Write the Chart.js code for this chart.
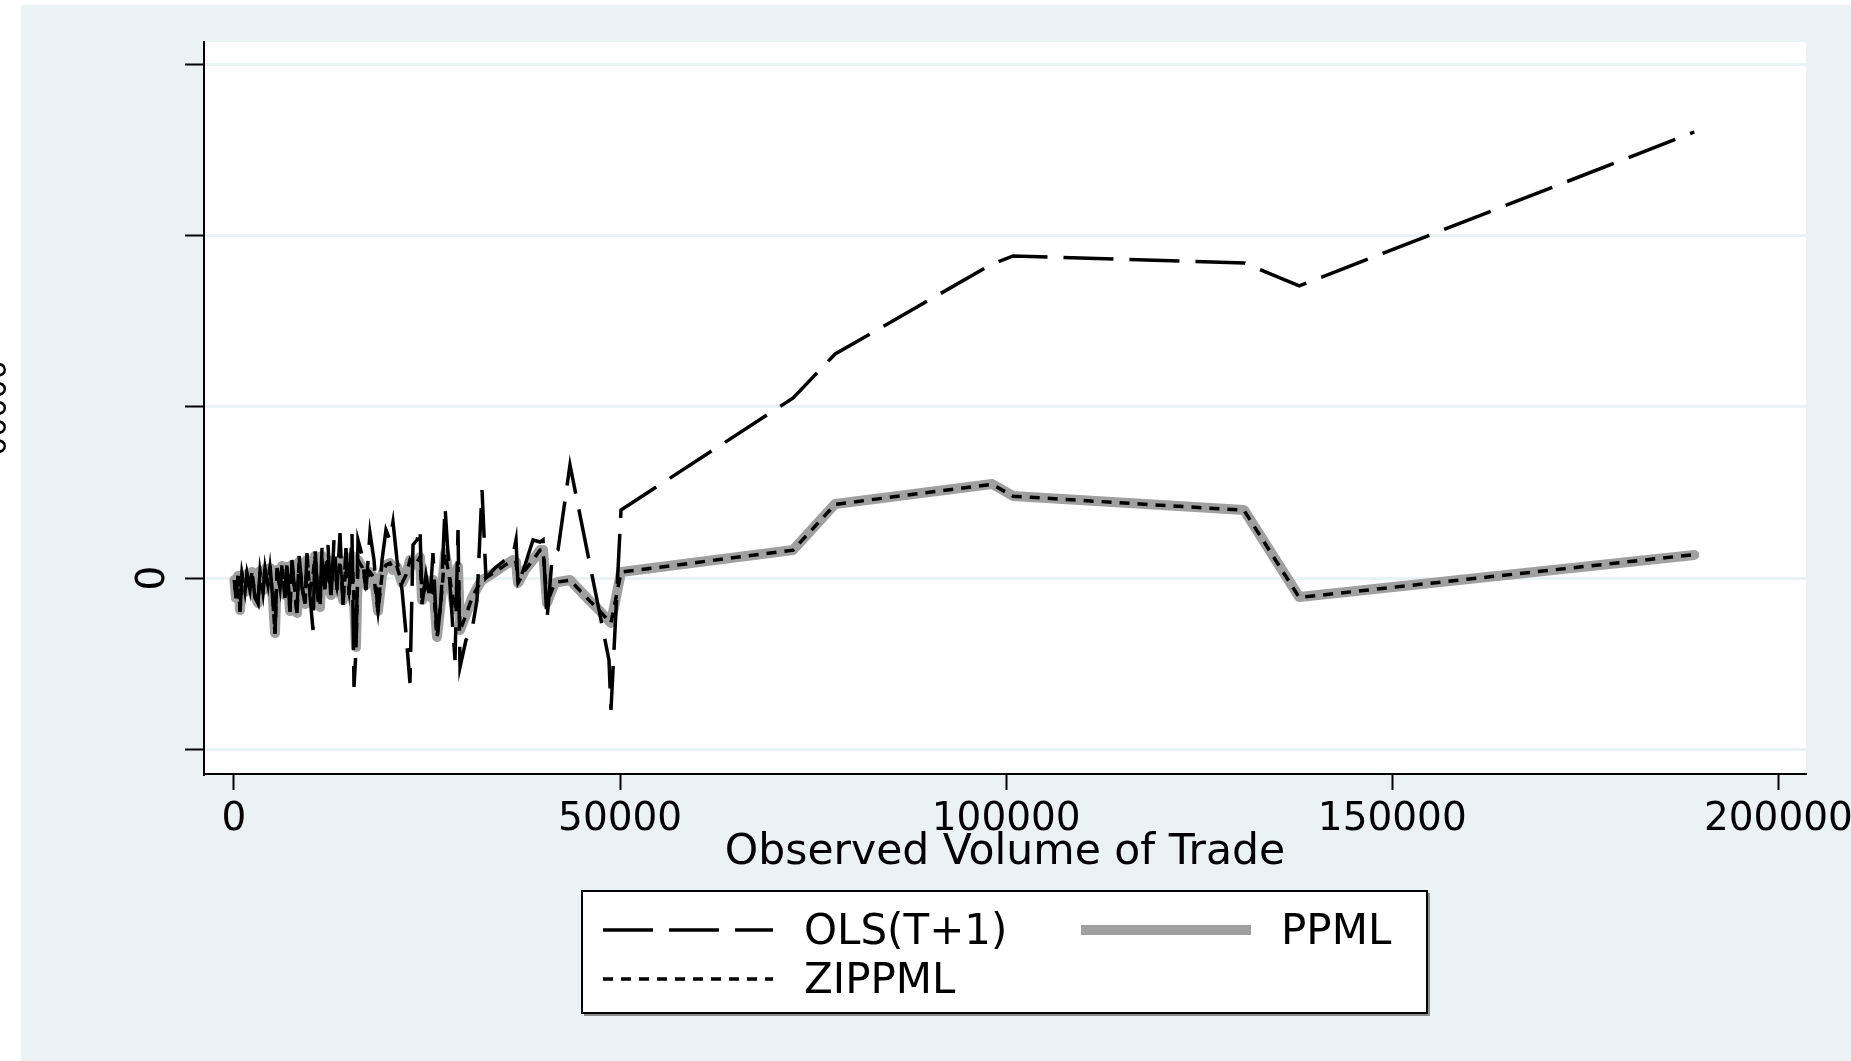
<!DOCTYPE html>
<html><head><meta charset="utf-8">
<script src="https://cdn.jsdelivr.net/npm/chart.js@4.4.1/dist/chart.umd.min.js"></script>
<style>html,body{margin:0;padding:0;background:#fff;overflow:hidden}canvas{display:block}</style>
</head><body>
<canvas id="c" width="1851" height="1061"></canvas>
<script>
// ---- data ----
const xObs = [50,260,520,780,1040,1420,1680,2070,2330,2720,3110,3370,3760,4020,4400,4660,5050,5310,5570,5960,
  6220,6600,6860,7250,7510,7900,8160,8420,8810,9200,9450,9840,10230,10490,10880,11140,11400,11790,12170,12560,
  12950,13340,13730,14120,14500,14890,15280,15540,15800,16060,16580,17090,17610,18130,18650,19170,19680,20200,20590,21110,
  21760,22270,22790,23180,23700,24090,24350,24860,25380,25770,26290,26810,27330,27970,28620,29010,29270,30040,30820,31470,
  32120,32630,33800,35100,36130,36520,36780,37690,38720,39630,40020,40530,41180,41570,41960,43510,46100,47400,48560,48820,
  50120,72410,77850,98180,100900,130800,137950,189110];

const olsVals = [-590,-5850,590,-9940,880,-4090,1170,-3510,2050,-5850,-7310,2340,-4090,2920,-2340,3510,-7020,-16370,2920,-2920,
  3800,-5850,4680,-9940,5260,-4970,-10230,6430,-2920,-7600,7310,-5260,-15200,8770,-6430,-8480,8770,-2920,9650,-6430,
  11110,-3510,13160,-7900,8770,-4970,13160,-31870,-21050,11110,6730,-3510,13160,5260,-9940,5260,14040,11110,16370,5260,
  -3510,-16080,-30700,9650,11110,14620,-7600,880,-6430,7310,-18130,-6430,20760,-2050,-23980,14040,-26020,-18130,-15200,-6430,
  25730,0,2920,5260,6730,11110,-2050,3800,11110,10530,11110,-12280,5260,7310,8190,33040,3800,-10820,-23980,-38600,
  19880,52630,65500,91810,94150,92110,85380,130410];

const ppmlVals = [-590,-5850,590,-9360,880,-4090,1170,-2920,1750,-5260,-7310,2050,-3510,2630,-2050,2920,-6430,-16080,2340,-2920,
  3510,-4970,3220,-9650,3800,-4090,-10230,4680,-2050,-7600,5260,-3510,880,6430,-4970,-8480,6430,-3510,5260,-4970,
  4680,-2050,5260,-6430,3510,-3510,6430,-6430,-20180,5260,3220,-2050,1750,20,-9650,880,3800,4390,2340,3220,
  -1460,880,5260,3800,4680,6140,-6430,-590,-5560,-590,-17250,-6430,7310,-590,-9360,3220,-15200,-10820,-5850,-2920,
  -590,30,1750,3800,5260,4680,-1460,2340,5260,8190,8190,-7310,-3510,-1460,-1170,-590,-6730,-9650,-12570,-13160,
  1750,8190,21640,27490,23980,19880,-5560,6730];

const zippmlVals = [-560,-5900,610,-9400,850,-4050,1200,-2950,1720,-5300,-7350,2080,-3480,2600,-2080,2950,-6400,-16200,2310,-2900,
  3540,-5000,3190,-9700,3830,-4120,-10300,4650,-2020,-7650,5230,-3540,910,6400,-5000,-8500,6460,-3480,5230,-5000,
  4710,-2080,5230,-6460,3480,-3540,6400,-6460,-20300,5230,3250,-2080,1720,50,-9700,910,3770,4360,2370,3190,
  -1490,910,5230,3830,4650,6110,-6460,-560,-5600,-620,-17350,-6400,7280,-620,-9400,3250,-15300,-10850,-5820,-2950,
  -560,60,1720,3770,5230,4710,-1430,2310,5230,8150,8220,-7350,-3480,-1490,-1140,-620,-6760,-9680,-12600,-13200,
  1720,8150,21550,27380,23900,19800,-5700,6850];

const seriesLabels = ['OLS(T+1)', 'PPML', 'ZIPPML'];
const xTickValues = [0, 50000, 100000, 150000, 200000];
const yTickValues = [-50000, 0, 50000, 100000, 150000];
const yTickLabels = { '0': '0' };
const xTitle = 'Observed Volume of Trade';
const yTitle = '00000';

// ---- chart ----
const FONT = 'DejaVu Sans';
const pts = vals => xObs.map((x, i) => ({ x: x, y: vals[i] }));

const bgPlugin = {
  id: 'bg',
  beforeDraw(chart) {
    const { ctx, chartArea: a, width, height } = chart;
    ctx.save();
    ctx.fillStyle = '#ffffff'; ctx.fillRect(0, 0, width, height);
    ctx.fillStyle = '#EAF2F3'; ctx.fillRect(21, 5, width - 21, height - 5);
    ctx.fillStyle = '#ffffff'; ctx.fillRect(a.left, a.top, a.right - a.left, a.bottom - a.top);
    ctx.restore();
  }
};

const legendPlugin = {
  id: 'stataLegend',
  afterDraw(chart) {
    const ctx = chart.ctx;
    const ds = chart.data.datasets;
    const box = { x: 582, y: 891, w: 845, h: 122 };
    ctx.save();
    ctx.fillStyle = '#ffffff'; ctx.fillRect(box.x, box.y, box.w, box.h);
    ctx.strokeStyle = '#8c8c8c'; ctx.lineWidth = 2;
    ctx.beginPath();
    ctx.moveTo(box.x + 2, box.y + box.h + 2); ctx.lineTo(box.x + box.w + 2, box.y + box.h + 2); ctx.lineTo(box.x + box.w + 2, box.y + 2);
    ctx.stroke();
    ctx.strokeStyle = '#000'; ctx.lineWidth = 2; ctx.strokeRect(box.x, box.y, box.w, box.h);
    const items = [
      { i: 0, x1: 603, x2: 773, y: 930, ty: 933, tx: 804 },
      { i: 1, x1: 1081, x2: 1251, y: 930, ty: 933, tx: 1281 },
      { i: 2, x1: 603, x2: 773, y: 979, ty: 982, tx: 804 }
    ];
    ctx.font = '42px "' + FONT + '"';
    ctx.textBaseline = 'middle'; ctx.textAlign = 'left';
    for (const it of items) {
      const d = ds[it.i];
      ctx.strokeStyle = d.borderColor; ctx.lineWidth = d.borderWidth;
      ctx.setLineDash(d.borderDash || []);
      ctx.lineCap = 'butt';
      ctx.beginPath(); ctx.moveTo(it.x1, it.y); ctx.lineTo(it.x2, it.y); ctx.stroke();
      ctx.setLineDash([]);
      ctx.fillStyle = '#000'; ctx.fillText(d.label, it.tx, it.ty);
    }
    ctx.restore();
  }
};

new Chart(document.getElementById('c'), {
  type: 'line',
  data: {
    datasets: [
      { label: seriesLabels[0], data: pts(olsVals), borderColor: '#000000', borderWidth: 3.5, borderDash: [50, 16],
        pointRadius: 0, fill: false, tension: 0, order: 1 },
      { label: seriesLabels[1], data: pts(ppmlVals), borderColor: '#A0A0A0', borderWidth: 10, borderJoinStyle: 'round',
        borderCapStyle: 'round', pointRadius: 0, fill: false, tension: 0, order: 2 },
      { label: seriesLabels[2], data: pts(zippmlVals), borderColor: '#000000', borderWidth: 3.5, borderDash: [10, 8],
        pointRadius: 0, fill: false, tension: 0, order: 0 }
    ]
  },
  options: {
    responsive: false,
    animation: false,
    devicePixelRatio: 1,
    layout: { padding: { left: 0, top: 42, right: 45, bottom: 183 } },
    plugins: { legend: { display: false }, tooltip: { enabled: false } },
    elements: { point: { radius: 0 } },
    scales: {
      x: {
        type: 'linear', min: -3885, max: 203575,
        afterBuildTicks: s => { s.ticks = xTickValues.map(v => ({ value: v })); },
        afterFit: s => { s.height = 104; s.paddingLeft = 0; s.paddingRight = 0; },
        grid: { drawOnChartArea: false, drawTicks: true, tickLength: 16, tickColor: '#000', tickWidth: 2 },
        border: { display: true, color: '#000', width: 2 },
        ticks: { padding: 6, color: '#000', autoSkip: false, maxRotation: 0, minRotation: 0,
          font: { family: FONT, size: 39 }, callback: v => String(v) },
        title: { display: true, text: xTitle, color: '#000', font: { family: FONT, size: 42.5 }, padding: { top: 0, bottom: 0 } }
      },
      y: {
        type: 'linear', min: -57300, max: 156700,
        afterBuildTicks: s => { s.ticks = yTickValues.map(v => ({ value: v })); },
        afterFit: s => { s.width = 204; s.paddingTop = 0; s.paddingBottom = 0; },
        grid: { color: '#EAF2F3', lineWidth: 3, drawTicks: true, tickLength: 19, tickColor: '#000', tickWidth: 2 },
        border: { display: true, color: '#000', width: 2 },
        ticks: { padding: 19, color: '#000', crossAlign: 'center', minRotation: 90, maxRotation: 90, autoSkip: false,
          font: { family: FONT, size: 39 }, callback: v => (yTickLabels[String(v)] !== undefined ? yTickLabels[String(v)] : '') },
        title: { display: true, text: yTitle, color: '#000', font: { family: FONT, size: 30 }, padding: { top: -20, bottom: 0 } }
      }
    }
  },
  plugins: [bgPlugin, legendPlugin]
});
</script>
</body></html>
